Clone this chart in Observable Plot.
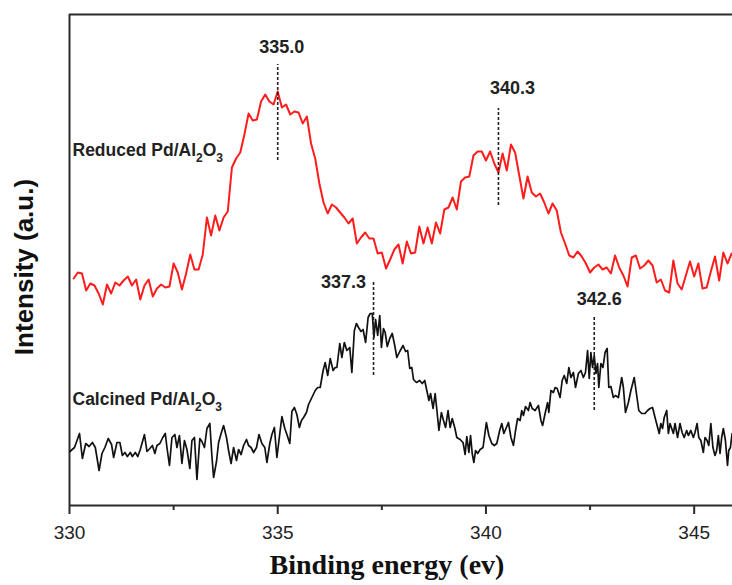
<!DOCTYPE html>
<html><head><meta charset="utf-8">
<script src="https://cdn.jsdelivr.net/npm/d3@7"></script>
<script src="https://cdn.jsdelivr.net/npm/@observablehq/plot@0.6"></script>
<style>
html,body{margin:0;padding:0;background:#fff;}
#chart{width:732px;height:585px;}
</style></head><body><div id="chart"></div>
<script>
// ---- Data (binding energy in eV, intensity in arbitrary units) ----
const reducedStartEV = 330.1;
const reducedStepEV = 0.1;
const reducedIntensity = [227,233,232,215,222,220,212,201,221,212,
 223,220,225,229,220,226,206,220,226,209,
 217,221,218,219,242,233,216,232,251,236,
 236,251,288,270,290,275,288,294,338,347,
 353,371,392,385,386,404,411,404,401,414,
 398,401,391,394,393,382,389,362,347,322,
 303,292,301,298,293,288,282,287,262,268,
 273,267,267,252,253,237,246,256,261,242,
 264,252,253,279,262,278,262,283,272,296,
 298,308,296,324,328,329,350,354,354,345,
 354,342,333,352,335,361,353,330,307,329,
 313,309,312,303,292,302,295,273,262,250,
 248,254,249,242,233,238,241,236,238,232,
 250,238,230,219,248,250,237,240,245,240,
 223,226,215,213,245,222,216,230,244,229,
 242,217,218,234,249,225,253,242,252];

const calcinedEnergy = [330.01,330.12,330.24,330.31,330.39,330.47,330.55,330.62,330.71,330.78,330.85,330.93,331.01,331.06,331.14,331.21,331.27,331.33,331.39,331.46,331.51,331.58,331.64,331.70,331.80,331.86,331.93,331.99,332.05,332.10,332.17,332.24,332.30,332.34,332.40,332.46,332.53,332.58,332.64,332.70,332.76,332.82,332.89,332.94,333.00,333.06,333.13,333.18,333.24,333.30,333.37,333.42,333.46,333.53,333.58,333.64,333.70,333.77,333.82,333.88,333.94,334.01,334.06,334.12,334.18,334.25,334.30,334.36,334.42,334.49,334.55,334.62,334.69,334.74,334.81,334.86,334.92,334.98,335.05,335.10,335.17,335.22,335.29,335.34,335.40,335.46,335.52,335.57,335.62,335.69,335.74,335.82,335.90,335.96,336.02,336.09,336.14,336.20,336.26,336.33,336.38,336.42,336.49,336.54,336.60,336.66,336.73,336.78,336.84,336.89,336.94,337.00,
 337.05,337.11,337.17,337.22,337.27,337.31,337.35,337.40,337.45,337.49,337.54,337.58,337.63,337.69,337.75,337.81,337.86,337.93,338.01,338.07,338.12,338.17,338.22,338.26,338.33,338.41,338.47,338.53,338.58,338.63,338.67,338.73,338.78,338.83,338.87,338.93,338.98,339.03,339.09,339.14,339.19,339.25,339.30,339.38,339.45,339.50,339.54,339.59,339.63,339.67,339.71,339.75,339.80,339.86,339.93,340.01,340.07,340.14,340.20,340.26,340.33,340.38,340.43,340.49,340.54,340.60,
 340.66,340.71,340.76,340.82,340.86,340.90,340.95,341.02,341.06,341.11,341.18,341.26,341.32,341.36,341.42,341.48,341.51,341.56,341.62,341.66,341.71,341.78,341.83,341.88,341.94,341.99,342.04,342.10,342.15,342.22,342.28,342.34,342.39,342.44,342.48,342.52,342.56,342.60,342.64,342.68,342.71,342.76,342.81,342.86,342.91,342.95,343.00,343.06,343.11,343.18,343.26,343.30,343.35,343.42,343.48,343.56,343.62,343.67,343.74,343.82,343.88,343.94,344.00,344.06,344.11,344.16,344.20,344.24,344.28,344.34,344.38,344.42,344.46,344.50,344.54,344.60,344.66,344.71,344.76,344.82,344.86,344.92,344.98,345.02,345.07,345.11,345.16,345.22,345.26,345.31,345.35,345.40,345.45,345.50,345.54,345.58,345.62,345.66,345.70,345.75,345.80,345.83,345.87,345.91];

const calcinedIntensity = [54,58,72,47,62,59,63,58,35,52,58,67,61,48,63,63,50,53,49,53,49,53,49,56,71,54,57,60,52,60,62,68,72,58,40,68,71,58,70,42,65,56,37,65,68,26,67,64,58,77,82,49,28,44,63,72,80,68,55,42,58,45,56,51,60,66,60,58,53,58,71,62,58,43,62,71,78,48,72,89,77,71,62,94,98,91,78,85,88,93,101,108,115,118,118,135,143,130,147,135,138,138,162,148,163,155,158,133,175,182,178,174,
 176,163,188,192,192,168,186,170,190,158,177,173,159,167,172,160,148,154,160,154,155,137,138,126,123,125,122,125,115,105,112,97,112,92,75,93,85,78,95,78,87,78,68,66,63,51,69,53,70,52,43,55,52,56,58,83,70,62,60,62,75,82,72,78,83,68,
 60,75,87,85,95,90,99,95,103,97,95,100,85,80,92,103,93,115,113,118,117,108,125,130,122,138,128,133,118,132,135,128,133,155,127,153,138,150,132,142,118,142,138,153,157,118,119,108,110,108,128,118,93,103,115,128,110,95,92,92,95,97,98,88,80,72,82,77,88,95,72,82,77,72,82,68,82,73,68,75,70,75,68,73,82,68,65,53,68,65,60,82,58,50,55,70,52,68,77,65,40,55,58,72];

const peakEnergy = [335.0, 340.3, 337.3, 342.6];
const peakLabels = ["335.0", "340.3", "337.3", "342.6"];
const peakLineTop = [441, 397, 225, 190];
const peakLineBottom = [345, 300, 130, 95];
const peakLabelLevel = [458, 417, 223, 206];

const seriesNames = ["Reduced Pd/Al2O3", "Calcined Pd/Al2O3"];
const seriesLabelLevel = [355, 106];

const majorTicks = [330, 335, 340, 345];
const minorTicks = [332.5, 337.5, 342.5];
const xTitle = "Binding energy (ev)";
const yTitle = "Intensity (a.u.)";

// ---- Build tables ----
const reduced = reducedIntensity.map((v, i) => ({e: +(reducedStartEV + i * reducedStepEV).toFixed(2), v}));
const n = Math.min(calcinedEnergy.length, calcinedIntensity.length);
const calcined = calcinedEnergy.slice(0, n).map((e, i) => ({e, v: calcinedIntensity[i]}));
const peaks = peakEnergy.map((e, i) => ({e, label: peakLabels[i], top: peakLineTop[i], bottom: peakLineBottom[i], ly: peakLabelLevel[i]}));
const labelDx = [4, 14, -30, 5];
const seriesRows = seriesNames.map((name, i) => ({name, y: seriesLabelLevel[i]}));

const axisColor = "#2b2b2b";
const chart = Plot.plot({
  width: 732, height: 585,
  marginLeft: 69, marginRight: 0, marginTop: 14, marginBottom: 80,
  x: {domain: [330, 345.92], axis: null},
  y: {domain: [0, 491], axis: null},
  style: {fontFamily: "'Liberation Sans', Arial, sans-serif", background: "#fff", overflow: "visible", color: "#222"},
  marks: [
    Plot.ruleY([491], {stroke: axisColor, strokeWidth: 2}),
    Plot.ruleX([330], {stroke: axisColor, strokeWidth: 2}),
    Plot.ruleY([0], {stroke: axisColor, strokeWidth: 2}),
    Plot.axisX(majorTicks, {anchor: "bottom", tickSize: 9, tickPadding: 11, fontSize: 19, stroke: axisColor, strokeWidth: 2, fill: "#222", label: null, tickFormat: d => String(d)}),
    Plot.axisX(minorTicks, {anchor: "bottom", tickSize: 5, stroke: axisColor, strokeWidth: 2, tickFormat: () => "", label: null}),
    Plot.line(reduced, {x: "e", y: "v", stroke: "#ff1c1c", strokeWidth: 2}),
    Plot.line(calcined, {x: "e", y: "v", stroke: "#111", strokeWidth: 1.7}),
    Plot.ruleX(peaks, {x: "e", y1: "bottom", y2: "top", stroke: "#222", strokeWidth: 1.6, strokeDasharray: "3,2"}),
    ...peaks.map((p, i) => Plot.text([p], {x: "e", y: "ly", text: "label", dx: labelDx[i], fontSize: 18, fontWeight: "bold", fill: "#222"})),
    Plot.text(seriesRows, {frameAnchor: "left", y: "y", text: "name", dx: 3, textAnchor: "start", fontSize: 17.5, fontWeight: "bold", fill: "#222"}),
    Plot.text([xTitle], {frameAnchor: "bottom", dx: -14, dy: 68, fontFamily: "'Liberation Serif', 'Times New Roman', serif", fontWeight: "bold", fontSize: 28, fill: "#111"}),
    Plot.text([yTitle], {frameAnchor: "left", dx: -45, dy: 7, rotate: -90, textAnchor: "middle", lineAnchor: "middle", fontSize: 26, fontWeight: "bold", fill: "#111"})
  ]
});

// subscripts for Al2O3
d3.select(chart).selectAll("text").each(function() {
  const t = this.textContent;
  if (t.includes("Al2O3")) {
    const base = t.replace("Al2O3", "Al");
    const sel = d3.select(this);
    sel.text(null);
    sel.append("tspan").text(base);
    sel.append("tspan").attr("dy", 6).attr("font-size", 12).text("2");
    sel.append("tspan").attr("dy", -6).text("O");
    sel.append("tspan").attr("dy", 6).attr("font-size", 12).text("3");
  }
});
document.getElementById("chart").appendChild(chart);
</script></body></html>
